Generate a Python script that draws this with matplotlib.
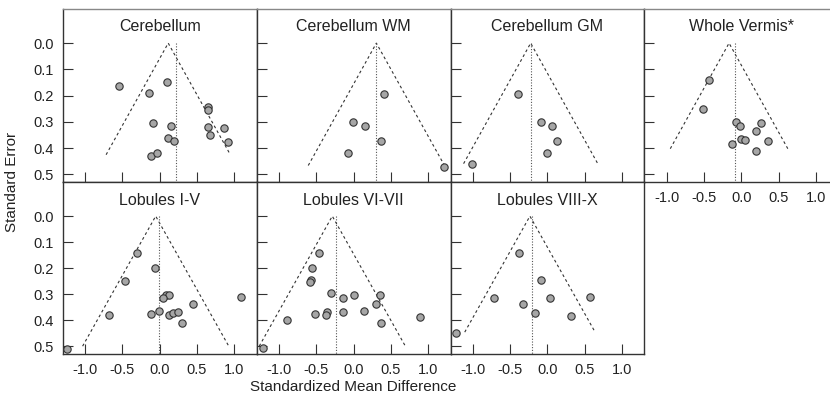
import matplotlib
matplotlib.use("Agg")
import matplotlib.pyplot as plt
import numpy as np

plt.rcParams['font.family'] = ['Liberation Sans', 'DejaVu Sans']
plt.rcParams['axes.unicode_minus'] = False

titles = ["Cerebellum", "Cerebellum WM", "Cerebellum GM", "Whole Vermis*",
          "Lobules I-V", "Lobules VI-VII", "Lobules VIII-X"]

smd_cerebellum = [-0.54, 0.096, -0.145, -0.087, 0.154, 0.114, 0.194, -0.114, -0.042,
                  0.649, 0.649, 0.645, 0.672, 0.868, 0.913]
se_cerebellum = [0.163, 0.147, 0.190, 0.304, 0.315, 0.360, 0.371, 0.429, 0.419,
                 0.245, 0.255, 0.319, 0.351, 0.325, 0.377]

smd_wm = [0.404, -0.006, 0.154, 0.368, -0.074, 1.217]
se_wm = [0.193, 0.302, 0.314, 0.374, 0.419, 0.472]

smd_gm = [-0.39, -0.082, 0.056, 0.127, -0.007, -1.01]
se_gm = [0.193, 0.302, 0.314, 0.371, 0.419, 0.459]

smd_vermis = [-0.44, -0.517, -0.066, -0.012, 0.269, 0.197, 0.001, 0.055, -0.124, 0.353, 0.197]
se_vermis = [0.142, 0.251, 0.302, 0.314, 0.306, 0.336, 0.366, 0.370, 0.383, 0.374, 0.411]

smd_l15 = [-0.305, -0.064, -0.47, 0.083, 0.127, 0.043, 1.096, 0.449, -0.676, -0.118,
           -0.007, 0.127, 0.181, 0.24, 0.306, -1.246]
se_l15 = [0.141, 0.199, 0.250, 0.303, 0.303, 0.314, 0.310, 0.338, 0.380, 0.378,
          0.366, 0.381, 0.371, 0.367, 0.412, 0.512]

smd_l67 = [-0.466, -0.56, -0.569, -0.59, -0.296, -0.135, 0.012, 0.351, 0.297, -0.898,
           -0.519, -0.354, -0.368, -0.145, 0.141, 0.364, 0.886, -1.211]
se_l67 = [0.142, 0.201, 0.247, 0.252, 0.295, 0.314, 0.304, 0.305, 0.336, 0.400,
          0.375, 0.369, 0.381, 0.369, 0.366, 0.412, 0.386, 0.508]

smd_l810 = [-0.381, -0.082, -0.711, 0.034, 0.574, -0.323, -0.171, 0.315, -1.229]
se_l810 = [0.141, 0.247, 0.313, 0.314, 0.309, 0.337, 0.371, 0.384, 0.450]

smd_values = [smd_cerebellum, smd_wm, smd_gm, smd_vermis, smd_l15, smd_l67, smd_l810]
se_values = [se_cerebellum, se_wm, se_gm, se_vermis, se_l15, se_l67, se_l810]

funnel_center = [0.115, 0.306, -0.225, -0.165, -0.053, -0.285, -0.235]
pooled_effect = [0.217, 0.306, -0.216, -0.084, -0.006, -0.238, -0.202]
funnel_se = [0.425, 0.466, 0.459, 0.402, 0.50, 0.50, 0.446]

x_ticks = [-1.0, -0.5, 0.0, 0.5, 1.0]
x_ticklabels = ["-1.0", "-0.5", "0.0", "0.5", "1.0"]
y_ticks = [0.0, 0.1, 0.2, 0.3, 0.4, 0.5]
y_ticklabels = ["0.0", "0.1", "0.2", "0.3", "0.4", "0.5"]

W, H = 830, 398
fig = plt.figure(figsize=(W / 100, H / 100), dpi=100)

col_left = [62.7, 256.6, 450.5, 644.4]
col_w = 193.9
row_top = [9.0, 182.3]
row_bot = [182.3, 354.0]

txt = '#222222'
for i in range(7):
    r = 0 if i < 4 else 1
    c = i if i < 4 else i - 4
    left = col_left[c] / W
    bottom = (H - row_bot[r]) / H
    height = (row_bot[r] - row_top[r]) / H
    ax = fig.add_axes([left, bottom, col_w / W, height])
    ax.set_xlim(-1.3, 1.3)
    ax.set_ylim(0.53, -0.13)

    se_max = funnel_se[i]
    cc = funnel_center[i]
    ax.plot([cc - 1.96 * se_max, cc, cc + 1.96 * se_max], [se_max, 0.0, se_max],
            linestyle=(0, (2.5, 2.5)), color='#333333', linewidth=0.8, zorder=2)
    ax.plot([pooled_effect[i], pooled_effect[i]], [0.0, 0.53], linestyle=(0, (1, 1.5)),
            color='#555555', linewidth=0.8, zorder=2)
    ax.scatter(smd_values[i], se_values[i], s=28, facecolor='#a6a6a6',
               edgecolor='#333333', linewidth=0.8, zorder=3, clip_on=False)

    ax.text(0.5, 0.94, titles[i], transform=ax.transAxes, ha='center', va='top',
            fontsize=11.5, color=txt)

    ax.set_xticks(x_ticks)
    ax.set_yticks(y_ticks)
    ax.tick_params(direction='in', length=7, width=0.8, color='#333333',
                   labelsize=10.5, labelcolor=txt, pad=6.5, top=False, right=False)
    if r == 1 or c == 3:
        ax.set_xticklabels(x_ticklabels)
    else:
        ax.set_xticklabels([])
    if c == 0:
        ax.set_yticklabels(y_ticklabels)
    else:
        ax.set_yticklabels([])
    for name, sp in ax.spines.items():
        sp.set_linewidth(1.0)
        sp.set_color('#333333')
    if r == 0:
        ax.spines['top'].set_color('#888888')

fig.text(12 / W, 1 - 182 / H, "Standard Error", rotation=90, ha='center', va='center',
         fontsize=11, color=txt)
fig.text(353 / W, 1 - 387 / H, "Standardized Mean Difference", ha='center', va='center',
         fontsize=11, color=txt)

fig.savefig("out.png", dpi=100)
